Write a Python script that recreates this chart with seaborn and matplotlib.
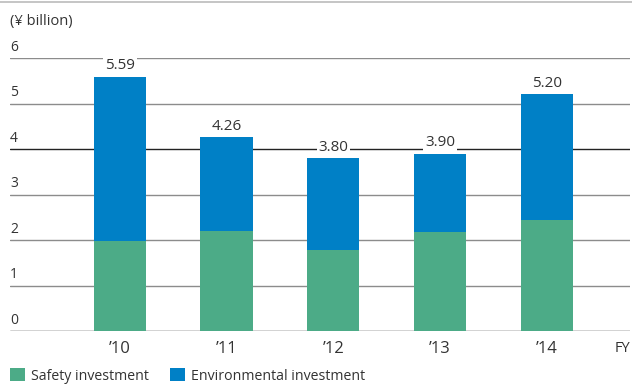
import matplotlib
matplotlib.use("Agg")
import matplotlib.pyplot as plt
import seaborn as sns
import pandas as pd
import numpy as np
from matplotlib.patches import Patch
from matplotlib.lines import Line2D

years = ["’10", "’11", "’12", "’13", "’14"]
safety = [1.98, 2.20, 1.78, 2.18, 2.44]
environmental = [3.61, 2.06, 2.02, 1.72, 2.76]
totals = [5.59, 4.26, 3.80, 3.90, 5.20]
total_labels = ["5.59", "4.26", "3.80", "3.90", "5.20"]
yticks = [0, 1, 2, 3, 4, 5, 6]

GREEN = "#4cab87"
BLUE = "#0080c6"
TXT = "#333333"

sns.set_theme(style="white")
plt.rcParams['font.family'] = ['Open Sans', 'DejaVu Sans']

df = pd.DataFrame({
    "year": years,
    "safety": safety,
    "stack": np.array(safety) + np.array(environmental),
})

fig = plt.figure(figsize=(6.32, 3.85), dpi=100)
ax = fig.add_axes([10/632, 1-331/385, 620/632, (331-58)/385])

sns.barplot(data=df, x="year", y="stack", color=BLUE, width=0.49,
            saturation=1, ax=ax, zorder=3, edgecolor="none")
sns.barplot(data=df, x="year", y="safety", color=GREEN, width=0.49,
            saturation=1, ax=ax, zorder=3, edgecolor="none")

ax.set_ylim(0, 6)
ax.set_xlim(-1.03, 4.78)
for s in ax.spines.values():
    s.set_visible(False)
ax.set_yticks([])
ax.set_xlabel("")
ax.set_ylabel("")

for t in yticks:
    col = "#222222" if t in (0, 4) else "#8c8c8c"
    ax.axhline(t, color=col, lw=1.0, zorder=1)
    ax.text(-1.03, t + 0.07, str(t), ha="left", va="bottom",
            fontsize=10, color=TXT, zorder=2)

for i, (tv, lab) in enumerate(zip(totals, total_labels)):
    ax.text(i, tv + 0.07, lab, ha="center", va="bottom", fontsize=11,
            color=TXT, zorder=2.5,
            bbox=dict(facecolor="white", edgecolor="none", pad=1.2))

ax.tick_params(axis="x", length=0, pad=7, labelsize=12, labelcolor=TXT)
ax.text(1.0, -0.035, "FY", transform=ax.transAxes, ha="right", va="top",
        fontsize=10.5, color=TXT)

fig.text(10/632, 1-21/385, "(¥ billion)", ha="left", va="center",
         fontsize=10.5, color=TXT)

fig.add_artist(Line2D([0, 1], [1-1.5/385, 1-1.5/385], color="#bbbbbb", lw=1.2,
                      transform=fig.transFigure))

handles = [Patch(facecolor=GREEN, edgecolor="none"),
           Patch(facecolor=BLUE, edgecolor="none")]
fig.legend(handles, ["Safety investment", "Environmental investment"],
           loc="center left", bbox_to_anchor=(7/632, 1-376/385), ncol=2,
           frameon=False, handlelength=1.05, handleheight=1.05,
           handletextpad=0.45, columnspacing=1.5, fontsize=10.2,
           labelcolor=TXT, borderaxespad=0, borderpad=0.2)

fig.savefig("out.png", dpi=100)
